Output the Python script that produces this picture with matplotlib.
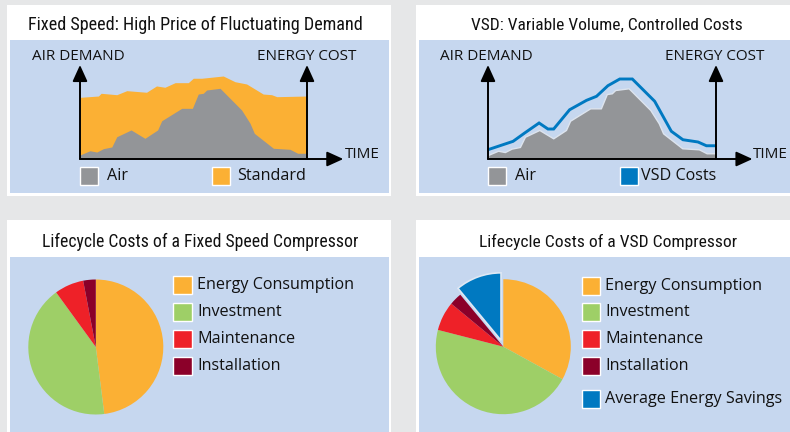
import matplotlib
matplotlib.use("Agg")
import matplotlib.pyplot as plt
from matplotlib.patches import Rectangle
from matplotlib import font_manager as fm

# ---------------- data ----------------
titles = ["Fixed Speed: High Price of Fluctuating Demand",
          "VSD: Variable Volume, Controlled Costs",
          "Lifecycle Costs of a Fixed Speed Compressor",
          "Lifecycle Costs of a VSD Compressor"]

air_t = [0, 4.4, 7.4, 10.3, 14, 16.2, 22.5, 28.6, 34.2, 36, 44.8, 49.5, 52.1,
         54.3, 55.8, 61.7, 71.2, 74.9, 76.8, 85.2, 92.5, 95.9, 100]
air_v = [4.3, 8.8, 7.4, 11, 12.8, 23.7, 30.9, 22, 30.9, 40.7, 53.9, 53.9, 69.1,
         69.9, 73.4, 75.2, 52.1, 38, 27.3, 11.4, 10.3, 6.1, 6.1]

std_t = [0, 8.1, 9.3, 16.2, 20.6, 29.3, 33.7, 37.4, 41.9, 47.7, 49.9, 53.6,
         63.1, 68.3, 73.4, 80.7, 84.4, 86.7, 100]
std_v = [65.6, 67, 69.9, 68.4, 72.7, 71, 77.7, 76.3, 81.2, 81.2, 85.9, 85.9,
         88.3, 82.2, 79.8, 69.1, 68.4, 66.3, 67]

vsd_t = [0, 11, 16.1, 22.4, 26.3, 28.8, 35.8, 43.2, 47.6, 52.6, 57.8, 63.3,
         73.1, 80.4, 85.5, 92.1, 95.8, 100]
vsd_v = [9.9, 18.8, 27.7, 38.3, 31.9, 31.9, 52.4, 62.4, 66.7, 78, 85.1, 85.1,
         61.4, 29.5, 20.5, 18.1, 14.1, 14.1]

axis_labels = ["AIR DEMAND", "ENERGY COST", "TIME"]
legend_top_left = ["Air", "Standard"]
legend_top_right = ["Air", "VSD Costs"]

cost_labels = ["Energy Consumption", "Investment", "Maintenance", "Installation"]
fixed_costs = [48, 42, 7, 3]
vsd_labels = ["Energy Consumption", "Investment", "Maintenance", "Installation",
              "Average Energy Savings"]
vsd_costs = [33, 46, 7, 3, 11]

# ---------------- style ----------------
BG = "#e6e7e8"
PANEL_BLUE = "#c6d7ef"
GRAY = "#939598"
ORANGE = "#fbb034"
GREEN = "#9ecf67"
RED = "#ee2128"
DARKRED = "#8b0029"
BLUE = "#0079c1"
pie_colors = [ORANGE, GREEN, RED, DARKRED, BLUE]

names = {f.name for f in fm.fontManager.ttflist}
BODY = "Open Sans" if "Open Sans" in names else "DejaVu Sans"
TITLE_FONT = None
for cand in ["Roboto Condensed", "Liberation Sans Narrow", "Open Sans Condensed",
             "DejaVu Sans Condensed"]:
    if cand in names:
        TITLE_FONT = cand
        break
if TITLE_FONT is None:
    TITLE_FONT = "Liberation Sans" if "Liberation Sans" in names else "DejaVu Sans"

W, H = 790, 432
fig = plt.figure(figsize=(W / 100, H / 100), dpi=100)
fig.patch.set_facecolor(BG)

# overlay in pixel coordinates
ov = fig.add_axes([0, 0, 1, 1])
ov.set_xlim(0, W)
ov.set_ylim(H, 0)
ov.axis("off")
ov.set_zorder(0)


def px_axes(x0, y0, x1, y1, z=2):
    ax = fig.add_axes([x0 / W, 1 - y1 / H, (x1 - x0) / W, (y1 - y0) / H])
    ax.set_zorder(z)
    ax.patch.set_alpha(0)
    return ax


# panels
panels = [((7, 5, 391, 196), (10, 40, 389, 193)),
          ((416, 5, 790, 196), (419, 40, 790, 193)),
          ((7, 220, 391, 432), (10, 257, 389, 432)),
          ((416, 220, 790, 432), (419, 257, 790, 432))]
for (wx0, wy0, wx1, wy1), (bx0, by0, bx1, by1) in panels:
    ov.add_patch(Rectangle((wx0, wy0), wx1 - wx0, wy1 - wy0, facecolor="white",
                           edgecolor="none"))
    ov.add_patch(Rectangle((bx0, by0), bx1 - bx0, by1 - by0, facecolor=PANEL_BLUE,
                           edgecolor="none"))

# titles, fitted to width
title_specs = [(titles[0], 195, 25, 336), (titles[1], 607, 25, 271),
               (titles[2], 200, 242, 314), (titles[3], 608, 242, 257)]
fig.canvas.draw()
renderer = fig.canvas.get_renderer()
for txt, cx, cy, tw in title_specs:
    t = ov.text(cx, cy, txt, ha="center", va="center", fontsize=15,
                family=TITLE_FONT, color="#111111")
    w = t.get_window_extent(renderer).width
    t.set_fontsize(min(15 * tw / w, 16))

ARROW = dict(arrowstyle="-|>,head_length=0.55,head_width=0.25",
             mutation_scale=18, lw=1.4, color="black", shrinkA=0, shrinkB=0)


def area_chart(x0, x1, base, top, kind):
    ax = px_axes(x0, top, x1, base)
    ax.set_xlim(0, 100)
    ax.set_ylim(0, 100)
    ax.axis("off")
    if kind == "fixed":
        ax.fill_between(std_t, 0, std_v, color=ORANGE, lw=0)
        ax.fill_between(air_t, 0, air_v, color=GRAY, lw=0)
    else:
        ax.fill_between(air_t, 0, air_v, facecolor=GRAY, edgecolor="#dde4ee", lw=1.0)
        ax.plot(vsd_t, vsd_v, color=BLUE, lw=2.1, solid_joinstyle="miter")
    for xa in (0, 100):
        ax.annotate("", xy=(xa, 100), xytext=(xa, 0), arrowprops=ARROW,
                    annotation_clip=False)
    ax.annotate("", xy=(116, 0), xytext=(0, 0), arrowprops=ARROW,
                annotation_clip=False)
    return ax


area_chart(80, 307, 159, 65, "fixed")
area_chart(488, 716, 159, 65, "vsd")

LAB = dict(fontsize=11, family=BODY, color="#111111", va="center")
ov.text(32, 57, axis_labels[0], ha="left", **LAB)
ov.text(257, 57, axis_labels[1], ha="left", **LAB)
ov.text(345, 155, axis_labels[2], ha="left", **LAB)
ov.text(440, 57, axis_labels[0], ha="left", **LAB)
ov.text(665, 57, axis_labels[1], ha="left", **LAB)
ov.text(753, 155, axis_labels[2], ha="left", **LAB)

LEG = dict(fontsize=11.6, family=BODY, color="#111111", va="center", ha="left")


def swatch(x, y, c, w=18, h=18):
    ov.add_patch(Rectangle((x, y), w, h, facecolor=c, edgecolor="white", lw=1.0))


swatch(80, 167, GRAY)
ov.text(107, 176, legend_top_left[0], **LEG)
swatch(212, 167, ORANGE)
ov.text(237, 176, legend_top_left[1], **LEG)
swatch(488, 167, GRAY)
ov.text(515, 176, legend_top_right[0], **LEG)
swatch(620, 167, BLUE)
ov.text(641, 176, legend_top_right[1], **LEG)

# pies
R = 67.5


def pie_axes(cx, cy, r, pad=1.25):
    ax = px_axes(cx - r * pad, cy - r * pad, cx + r * pad, cy + r * pad)
    return ax


ax1 = pie_axes(95.8, 347, R)
ax1.pie(fixed_costs, colors=pie_colors[:4], startangle=90, counterclock=False,
        radius=1, wedgeprops=dict(lw=0))
ax1.set_xlim(-1.25, 1.25)
ax1.set_ylim(-1.25, 1.25)
ax1.set_aspect("equal")

ax2 = pie_axes(503.3, 346.7, R)
wedges, _ = ax2.pie(vsd_costs, colors=pie_colors, startangle=90, counterclock=False,
                    radius=1, explode=[0, 0, 0, 0, 0.1], wedgeprops=dict(lw=0))
wedges[-1].set_edgecolor("#dfe8f4")
wedges[-1].set_linewidth(1.2)
ax2.set_xlim(-1.25, 1.25)
ax2.set_ylim(-1.25, 1.25)
ax2.set_aspect("equal")

rows_left = [285, 311.5, 339, 366]
for lab, c, yy in zip(cost_labels, pie_colors, rows_left):
    swatch(173, yy - 9, c, 19, 18)
    ov.text(197, yy, lab, **LEG)

rows_right = [286, 311.5, 339, 366, 399]
for lab, c, yy in zip(vsd_labels, pie_colors, rows_right):
    swatch(582, yy - 9, c, 18, 18)
    ov.text(605, yy, lab, **LEG)

fig.savefig("out.png", dpi=100, facecolor=BG)
